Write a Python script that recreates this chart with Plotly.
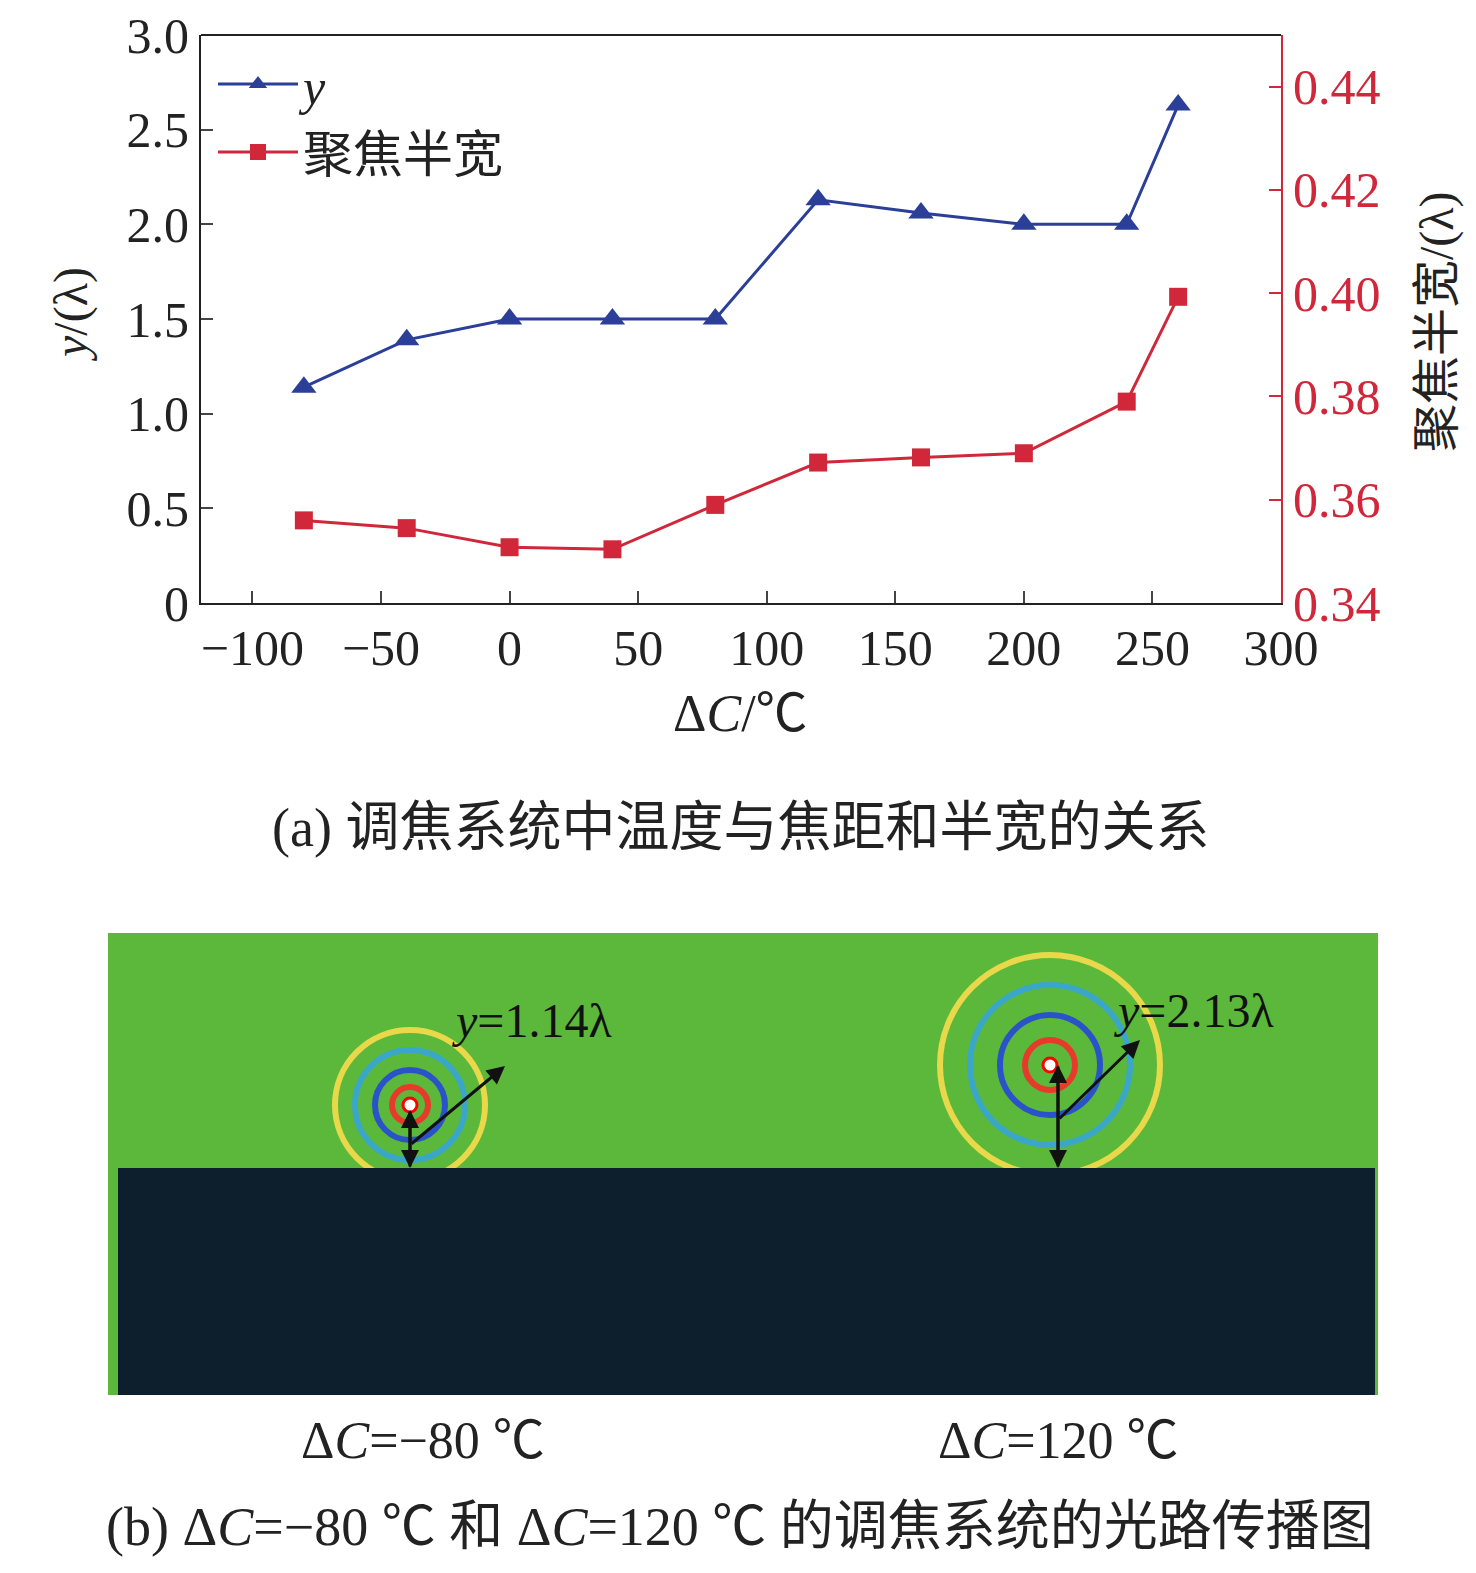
import plotly.graph_objects as go

delta_c = [-80, -40, 0, 40, 80, 120, 160, 200, 240, 260]
focal_y = [1.14, 1.39, 1.50, 1.50, 1.50, 2.13, 2.06, 2.00, 2.00, 2.63]
half_width = [0.356, 0.3545, 0.3508, 0.3504, 0.359, 0.3672, 0.3682, 0.369, 0.379, 0.3993]

x_ticks = [-100, -50, 0, 50, 100, 150, 200, 250, 300]
y_ticks = [0, 0.5, 1.0, 1.5, 2.0, 2.5, 3.0]
y_ticktext = ["0", "0.5", "1.0", "1.5", "2.0", "2.5", "3.0"]
y2_ticks = [0.34, 0.36, 0.38, 0.40, 0.42, 0.44]

W, H = 1476, 1573
FONT = "Liberation Serif, Times New Roman, Noto Sans CJK SC"
BLUE = "#2b3f99"
RED = "#d0283a"


# page margin of the browser shifts the figure by a few pixels
def px(x):
    return (x - 5) / W


def py(y):
    return 1 - (y - 8) / H


fig = go.Figure()
fig.add_trace(go.Scatter(
    x=delta_c, y=focal_y, name="<i>y</i>", mode="lines+markers",
    line=dict(color=BLUE, width=3),
    marker=dict(symbol="triangle-up", size=22, color=BLUE),
))
fig.add_trace(go.Scatter(
    x=delta_c, y=half_width, name="聚焦半宽", mode="lines+markers", yaxis="y2",
    line=dict(color=RED, width=3),
    marker=dict(symbol="square", size=18, color=RED),
))

axis_common = dict(showgrid=False, zeroline=False, ticks="inside", ticklen=12, tickwidth=2,
                   automargin=False, ticklabeloverflow="allow")
fig.update_layout(
    width=W, height=H, margin=dict(l=0, r=0, t=0, b=0),
    paper_bgcolor="white", plot_bgcolor="white",
    font=dict(family=FONT, size=50, color="#222"),
    xaxis=dict(domain=[px(198), px(1278)], range=[-120, 300], tickvals=x_ticks,
               showline=True, linecolor="#222", linewidth=2, anchor="y", **axis_common),
    yaxis=dict(domain=[py(603), py(35)], range=[0, 3.0], tickvals=y_ticks, ticktext=y_ticktext,
               showline=True, linecolor="#222", linewidth=2, **axis_common),
    yaxis2=dict(overlaying="y", side="right", range=[0.34, 0.45], tickvals=y2_ticks,
                tickformat=".2f", showline=True, linecolor=RED, linewidth=2,
                tickfont=dict(color=RED, size=50), tickcolor=RED, **axis_common),
    legend=dict(x=px(210), y=py(45), xanchor="left", yanchor="top",
                bgcolor="rgba(0,0,0,0)", font=dict(size=50), itemwidth=80),
    showlegend=True,
)

shapes = [
    dict(type="line", xref="paper", yref="paper", x0=px(198), x1=px(1278),
         y0=py(35), y1=py(35), line=dict(color="#222", width=2)),
    # panel (b) background field
    dict(type="rect", xref="paper", yref="paper", x0=px(105), x1=px(1375),
         y0=py(1395), y1=py(933), fillcolor="#5cb83a", line=dict(width=0), layer="below"),
]
# rings around focal spots
ring_colors = ["#e8d84a", "#3aa7c9", "#2b53c9", "#e83a2a"]
for cx, cy, rs in [(407, 1105, [75, 55, 35, 18]), (1047, 1065, [110, 80, 50, 25])]:
    for r, c in zip(rs, ring_colors):
        shapes.append(dict(type="circle", xref="paper", yref="paper",
                           x0=px(cx - r), x1=px(cx + r), y0=py(cy + r), y1=py(cy - r),
                           line=dict(color=c, width=6), layer="below"))
    shapes.append(dict(type="circle", xref="paper", yref="paper", x0=px(cx - 7), x1=px(cx + 7),
                       y0=py(cy + 7), y1=py(cy - 7), fillcolor="white", line=dict(color="red", width=3)))
shapes.append(dict(type="rect", xref="paper", yref="paper", x0=px(115), x1=px(1372),
                   y0=py(1395), y1=py(1168), fillcolor="#0d1f2c", line=dict(width=0)))
fig.update_layout(shapes=shapes)

ann = [
    dict(x=px(68), y=py(315), text="<i>y</i>/(λ)", textangle=-90, font=dict(size=48)),
    dict(x=px(1434), y=py(322), text="聚焦半宽/(λ)", textangle=-90, font=dict(size=48)),
    dict(x=px(737), y=py(713), text="Δ<i>C</i>/℃", font=dict(size=52)),
    dict(x=px(737), y=py(828), text="(a) 调焦系统中温度与焦距和半宽的关系", font=dict(size=54)),
    dict(x=px(528), y=py(1020), text="<i>y</i>=1.14λ", font=dict(size=48, color="#111")),
    dict(x=px(1190), y=py(1010), text="<i>y</i>=2.13λ", font=dict(size=48, color="#111")),
    dict(x=px(420), y=py(1440), text="Δ<i>C</i>=−80 ℃", font=dict(size=52)),
    dict(x=px(1055), y=py(1440), text="Δ<i>C</i>=120 ℃", font=dict(size=52)),
    dict(x=px(737), y=py(1527), text="(b) Δ<i>C</i>=−80 ℃ 和 Δ<i>C</i>=120 ℃ 的调焦系统的光路传播图",
         font=dict(size=54)),
]
for a in ann:
    a.update(xref="paper", yref="paper", showarrow=False, xanchor="center", yanchor="middle")
arrows = [((407, 1168), (407, 1110)), ((407, 1110), (407, 1168)), ((407, 1145), (502, 1066)),
          ((1055, 1168), (1055, 1065)), ((1055, 1065), (1055, 1168)), ((1055, 1120), (1137, 1040))]
for (x0, y0), (x1, y1) in arrows:
    ann.append(dict(xref="paper", yref="paper", axref="pixel", ayref="pixel",
                    x=px(x1), y=py(y1), ax=x0 - x1, ay=y0 - y1, text="", showarrow=True,
                    arrowhead=2, arrowsize=1.2, arrowwidth=3, arrowcolor="#111"))
fig.update_layout(annotations=ann)

fig.write_html("out.html")
